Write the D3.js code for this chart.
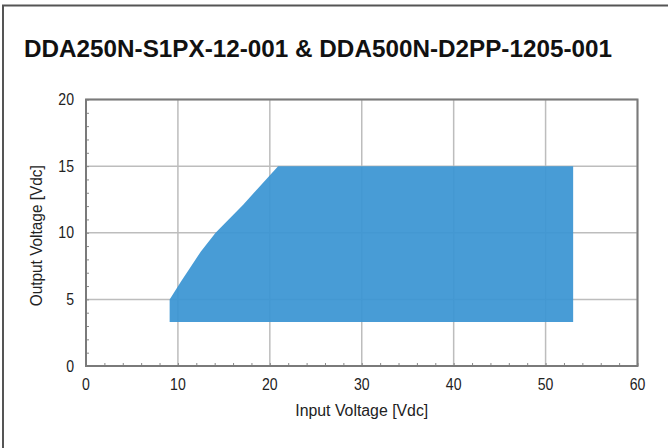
<!DOCTYPE html>
<html>
<head>
<meta charset="utf-8">
<script src="https://cdn.jsdelivr.net/npm/d3@7"></script>
<style>
  body { margin: 0; background: #fff; }
  svg { display: block; font-family: "Liberation Sans", Arial, sans-serif; }
</style>
</head>
<body>
<script>
// safe operating area polygon
const inputV  = [9.1, 9.1, 10.3, 11.4, 12.5, 14.1, 17.1, 20.9, 53, 53];
const outputV = [3.3, 5, 6.3, 7.45, 8.6, 10, 12.1, 15, 15, 3.3];

const xTicks = [0, 10, 20, 30, 40, 50, 60];
const yTicks = [0, 5, 10, 15, 20];

const title = 'DDA250N-S1PX-12-001 & DDA500N-D2PP-1205-001';

const W = 668, H = 448;
const margin = { top: 99.5, right: 30.5, bottom: 82, left: 86 };
const width = W - margin.left - margin.right;
const height = H - margin.top - margin.bottom;

const svg = d3.select('body').append('svg')
    .attr('width', W)
    .attr('height', H);

// outer frame (top + left only)
svg.append('path')
    .attr('d', `M3,${H} V5.5 H${W}`)
    .attr('fill', 'none')
    .attr('stroke', '#555')
    .attr('stroke-width', 2);

svg.append('text')
    .attr('x', 24)
    .attr('y', 56.5)
    .attr('font-size', 24)
    .attr('font-weight', 'bold')
    .attr('textLength', 588)
    .attr('lengthAdjust', 'spacingAndGlyphs')
    .attr('fill', '#111')
    .text(title);

const g = svg.append('g')
    .attr('transform', `translate(${margin.left},${margin.top})`);

const x = d3.scaleLinear().domain([0, 60]).range([0, width]);
const y = d3.scaleLinear().domain([0, 20]).range([height, 0]);

// grid
g.selectAll('.vgrid')
    .data(xTicks)
    .enter()
    .append('line')
    .attr('class', 'vgrid')
    .attr('x1', d => x(d)).attr('x2', d => x(d))
    .attr('y1', 0).attr('y2', height)
    .attr('stroke', '#bdbdbd')
    .attr('stroke-width', 1.5);

g.selectAll('.hgrid')
    .data(yTicks)
    .enter()
    .append('line')
    .attr('class', 'hgrid')
    .attr('x1', 0).attr('x2', width)
    .attr('y1', d => y(d)).attr('y2', d => y(d))
    .attr('stroke', '#bdbdbd')
    .attr('stroke-width', 1.5);

// area
const pts = inputV.map((v, i) => [x(v), y(outputV[i])]);
g.append('path')
    .attr('d', d3.line()(pts) + 'Z')
    .attr('fill', '#3a95d3')
    .attr('fill-opacity', 0.93);

// minor ticks, pointing inward
const xAxis = d3.axisBottom(x).tickValues(d3.range(0, 61, 2)).tickSize(-3).tickFormat('');
g.append('g')
    .attr('transform', `translate(0,${height})`)
    .call(xAxis)
    .call(s => s.select('.domain').remove())
    .selectAll('line').attr('stroke', '#888').attr('stroke-width', 1);

const yAxis = d3.axisLeft(y).tickValues(d3.range(0, 21, 1)).tickSize(-3).tickFormat('');
g.append('g')
    .call(yAxis)
    .call(s => s.select('.domain').remove())
    .selectAll('line').attr('stroke', '#888').attr('stroke-width', 1);

// plot frame
g.append('rect')
    .attr('width', width)
    .attr('height', height)
    .attr('fill', 'none')
    .attr('stroke', '#7a7a7a')
    .attr('stroke-width', 2);

// tick labels (slightly narrow, like the original)
g.selectAll('.xlab')
    .data(xTicks)
    .enter()
    .append('text')
    .attr('transform', d => `translate(${x(d)},${height + 24}) scale(0.88,1)`)
    .attr('text-anchor', 'middle')
    .attr('font-size', 16)
    .attr('fill', '#222')
    .text(d => d);

g.selectAll('.ylab')
    .data(yTicks)
    .enter()
    .append('text')
    .attr('transform', d => `translate(-12,${y(d) + 5.5}) scale(0.88,1)`)
    .attr('text-anchor', 'end')
    .attr('font-size', 16)
    .attr('fill', '#222')
    .text(d => d);

// axis titles
g.append('text')
    .attr('x', width / 2)
    .attr('y', height + 50)
    .attr('text-anchor', 'middle')
    .attr('font-size', 16)
    .attr('textLength', 133)
    .attr('lengthAdjust', 'spacingAndGlyphs')
    .attr('fill', '#222')
    .text('Input Voltage [Vdc]');

g.append('text')
    .attr('transform', `translate(${-44},${height / 2 + 3}) rotate(-90)`)
    .attr('text-anchor', 'middle')
    .attr('font-size', 16)
    .attr('textLength', 141)
    .attr('lengthAdjust', 'spacingAndGlyphs')
    .attr('fill', '#222')
    .text('Output Voltage [Vdc]');
</script>
</body>
</html>
